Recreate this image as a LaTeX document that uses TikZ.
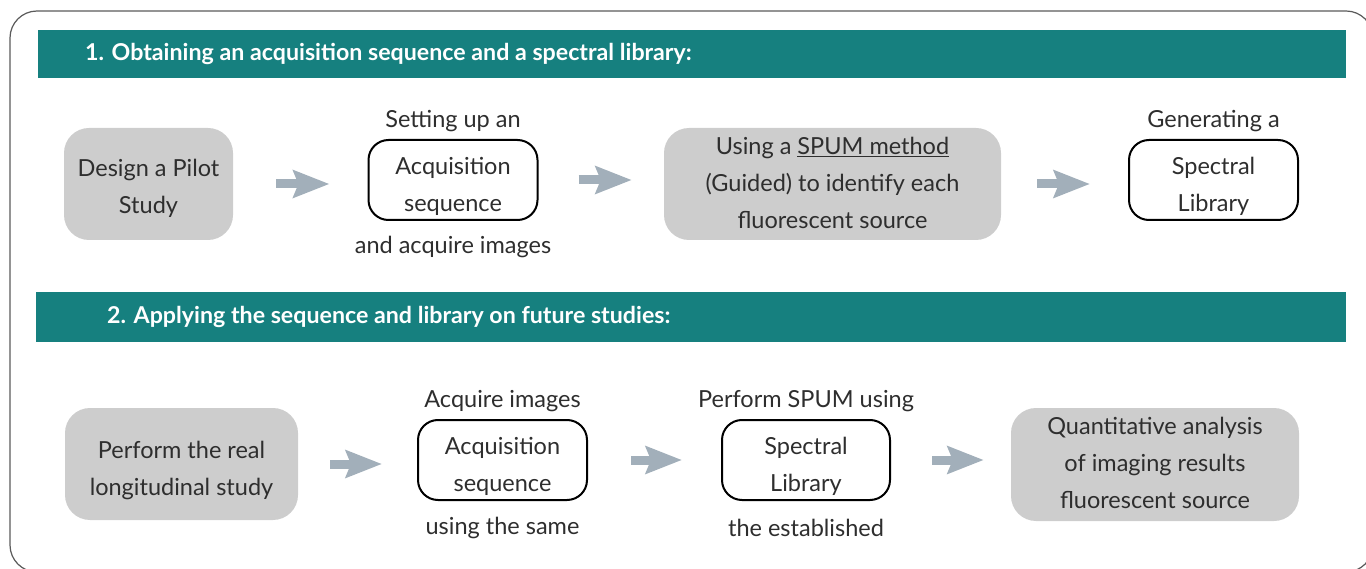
\documentclass[tikz,border=0pt]{standalone}
\usepackage{fontspec}
\setmainfont{Lato}
\usetikzlibrary{arrows.meta}
\definecolor{teal1}{HTML}{16807F}
\definecolor{boxgray}{HTML}{CDCDCD}
\definecolor{arrowc}{HTML}{A2AFBA}
\definecolor{txt}{HTML}{2E2E2E}
\definecolor{framec}{HTML}{5A5A5A}
\newcommand{\toppad}[1]{\rule{0pt}{#1}}
\newcommand{\botpad}[1]{\rule[-#1]{0pt}{#1}}
\begin{document}
\begin{tikzpicture}[x=1pt,y=-1pt,
 graybox/.style={fill=boxgray, rounded corners=25pt, inner sep=0pt, align=center, text=txt, font=\fontsize{23.5}{37}\selectfont},
 whitebox/.style={draw=black, line width=2pt, fill=white, rounded corners=20pt, minimum width=169pt, minimum height=80pt, inner sep=0pt, align=center, text=txt, font=\fontsize{23.5}{37}\selectfont},
 lbl/.style={text=txt, font=\fontsize{23.5}{28}\selectfont, inner sep=0pt},
 header/.style={fill=teal1, inner sep=0pt, anchor=north west},
 htext/.style={text=white, font=\fontsize{23.2}{27}\selectfont\bfseries, anchor=west, inner sep=0pt},
 flow/.style={draw=arrowc, line width=9pt, -{Stealth[length=36pt,width=27pt,inset=5pt]}}
]
\useasboundingbox (0,0) rectangle (1366,569);
\draw[framec, line width=1.2pt, rounded corners=27pt] (10,11) rectangle (1373,572);

% headers
\node[header, minimum width=1308pt, minimum height=48pt] (h1) at (38,30) {};
\node[htext] (t1) at (85,54) {1. Obtaining an acquisition sequence and a spectral library:};
\node[header, minimum width=1310pt, minimum height=50pt] (h2) at (36,292) {};
\node[htext] (t2) at (107,317) {2. Applying the sequence and library on future studies:};

% row 1
\node[graybox, minimum width=169pt, minimum height=112pt] (a) at (148.5,184) {\toppad{25.5pt}Design a Pilot\\Study};
\node[whitebox] (b) at (453,180) {\toppad{29.5pt}Acquisition\\sequence};
\node[graybox, minimum width=337pt, minimum height=112pt] (c) at (832.5,184) {Using a \underline{SPUM method}\\(Guided) to identify each\\fluorescent source\botpad{3pt}};
\node[whitebox] (d) at (1213.5,180) {\toppad{29.5pt}Spectral\\Library};
\node[lbl] (bt) at ([yshift=18pt]b.north) {Setting up an};
\node[lbl] (bb) at ([yshift=-26pt]b.south) {and acquire images};
\node[lbl] (dt) at ([yshift=18pt]d.north) {Generating a};

\draw[flow, shorten <=43pt, shorten >=38pt] (a.east) -- (a.east -| b.west);
\draw[flow, shorten <=40pt, shorten >=32pt] (b.east) -- (b.east -| c.west);
\draw[flow, shorten <=36pt, shorten >=38pt] (c.east) -- (c.east -| d.west);

% row 2
\node[graybox, minimum width=233pt, minimum height=112pt] (e) at (181.5,464) {\toppad{31pt}Perform the real\\longitudinal study};
\node[whitebox] (f) at (502.5,460) {\toppad{29.5pt}Acquisition\\sequence};
\node[whitebox, minimum width=168pt] (g) at (806,460) {\toppad{29.5pt}Spectral\\Library};
\node[graybox, minimum width=288pt, minimum height=113pt] (h) at (1155,464.5) {Quantitative analysis\\of imaging results\\fluorescent source\botpad{4pt}};
\node[lbl] (ft) at ([yshift=18pt]f.north) {Acquire images};
\node[lbl] (fb) at ([yshift=-27pt]f.south) {using the same};
\node[lbl] (gt) at ([yshift=18pt]g.north) {Perform SPUM using};
\node[lbl] (gb) at ([yshift=-27pt]g.south) {the established};

\draw[flow, shorten <=32pt, shorten >=35pt] (e.east) -- (e.east -| f.west);
\draw[flow, shorten <=43pt, shorten >=39pt] (f.east) -- (f.east -| g.west);
\draw[flow, shorten <=41pt, shorten >=27pt] (g.east) -- (g.east -| h.west);
\end{tikzpicture}
\end{document}
